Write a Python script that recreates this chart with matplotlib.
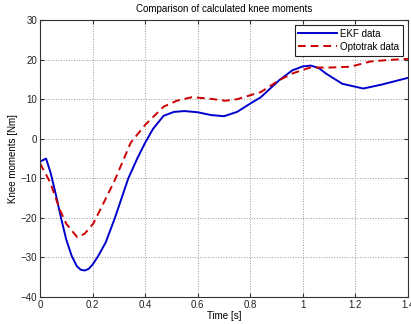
import matplotlib
matplotlib.use('Agg')
import numpy as np
import matplotlib.pyplot as plt

# EKF estimate (blue, solid)
t_ekf = [0, 0.023, 0.04, 0.06, 0.08, 0.1, 0.12, 0.14, 0.155, 0.17, 0.185, 0.2,
         0.22, 0.25, 0.285, 0.336, 0.37, 0.4, 0.43, 0.47, 0.51, 0.55, 0.6,
         0.65, 0.7, 0.75, 0.8, 0.84, 0.91, 0.96, 1.0, 1.03, 1.06, 1.09, 1.15,
         1.23, 1.3, 1.4]
m_ekf = [-5.8, -5.0, -8.5, -14, -20, -25.5, -29.5, -32.2, -33.1, -33.3, -32.9, -31.8,
         -29.8, -26.2, -20, -10, -5, -1, 2.5, 5.8, 6.8, 7.0, 6.7,
         6.0, 5.7, 6.8, 8.9, 10.5, 14.8, 17.3, 18.3, 18.5, 17.9, 16.4, 13.9,
         12.7, 13.7, 15.4]

# Optotrak reference (red, dashed)
t_opt = [0, 0.038, 0.076, 0.1, 0.142, 0.17, 0.203, 0.24, 0.285, 0.345, 0.4,
         0.47, 0.52, 0.577, 0.64, 0.704, 0.75, 0.8, 0.84, 0.91, 0.96, 1.027,
         1.1, 1.18, 1.255, 1.32, 1.4]
m_opt = [-6.2, -10.9, -18, -21.5, -24.9, -24, -21.4, -16.5, -10.4, -1, 3.5,
         8.1, 9.6, 10.5, 10.2, 9.6, 10.0, 11.0, 11.8, 14.8, 16.5, 18.0,
         18.0, 18.2, 19.5, 19.9, 20.2]

plt.rcParams['font.family'] = 'Liberation Sans'
plt.rcParams['font.size'] = 7

fig = plt.figure(figsize=(4.11, 3.24), dpi=100)
ax = fig.add_axes([0.0973, 0.0833, 0.8954, 0.8547])

ax.plot(t_ekf, m_ekf, color='#0000cc', lw=1.4, label='EKF data')
ax.plot(t_opt, m_opt, color='#cc0000', lw=1.4, ls=(0, (4, 2.5)), label='Optotrak data')

ax.set_xlim(0, 1.4)
ax.set_ylim(-40, 30)
ax.set_xticks(np.arange(0, 1.41, 0.2))
ax.set_xticklabels(['0', '0.2', '0.4', '0.6', '0.8', '1', '1.2', '1.4'])
ax.set_yticks(np.arange(-40, 31, 10))
ax.grid(True, ls=':', color='#999999', lw=0.7)
ax.tick_params(direction='in', top=True, right=True, length=3, pad=2,
               colors='#333333', labelcolor='#222222')
for s in ax.spines.values():
    s.set_color('#333333')

ax.set_title('Comparison of calculated knee moments', fontsize=7, pad=6)
ax.set_xlabel('Time [s]', labelpad=1)
ax.set_ylabel('Knee moments [Nm]', labelpad=2)

leg = ax.legend(loc='upper right', fancybox=False, edgecolor='#222222', framealpha=1,
                handlelength=4, borderaxespad=0.5, borderpad=0.4, labelspacing=0.3,
                handletextpad=0.3)
leg.get_frame().set_linewidth(0.8)

fig.savefig('out.png', dpi=100)
